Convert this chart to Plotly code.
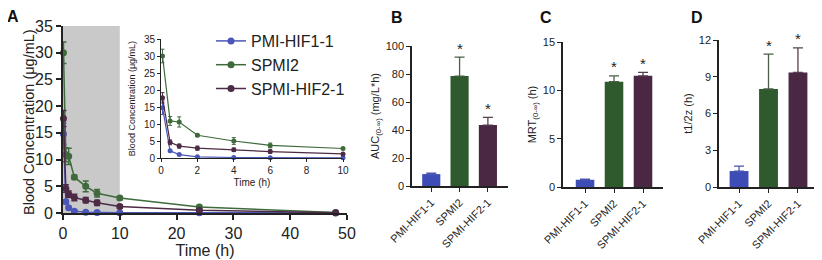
import plotly.graph_objects as go

# ---------------- data ----------------
time_h = [0.083, 0.5, 1, 2, 4, 6, 10, 24, 48]
series_names = ["PMI-HIF1-1", "SPMI2", "SPMI-HIF2-1"]
conc_pmi = [14.8, 2.1, 1.0, 0.35, 0.15, 0.08, 0.05, 0.05, 0.02]
conc_pmi_err = [2.0, 0.3, 0.15, 0.1, 0.05, 0.03, 0.02, 0.02, 0.01]
conc_spmi2 = [30.0, 10.9, 10.6, 6.7, 5.0, 3.7, 2.8, 1.1, 0.1]
conc_spmi2_err = [2.0, 1.3, 1.5, 0.4, 1.0, 0.7, 0.3, 0.3, 0.05]
conc_hif2 = [17.7, 4.6, 3.5, 2.9, 2.4, 1.9, 1.2, 0.5, 0.05]
conc_hif2_err = [1.5, 0.7, 0.6, 0.6, 0.5, 0.5, 0.3, 0.1, 0.02]

bar_categories = ["PMI-HIF1-1", "SPMI2", "SPMI-HIF2-1"]
auc_vals = [8.5, 78.5, 43.5]
auc_err = [0.7, 13.5, 5.5]
mrt_vals = [0.75, 10.9, 11.5]
mrt_err = [0.05, 0.6, 0.35]
thalf_vals = [1.3, 8.0, 9.35]
thalf_err = [0.4, 2.85, 2.0]
significant = [False, True, True]

line_colors = ["#4b57b8", "#3f6b3c", "#4d2a45"]
bar_colors = ["#3e4cb6", "#2e5a2e", "#4a2743"]
err_colors = ["#4a55b0", "#4a5e48", "#55404f"]

VW, VH = 822, 260          # browser window
OFF = 8                    # default page body margin
W, H = VW - OFF, VH - OFF  # figure size so that it fills the window
FONT = "Liberation Sans, Arial, sans-serif"


def px_x(p):
    return (p - OFF) / W


def px_y(p):
    return (VH - p) / H


fig = go.Figure()

conc = [conc_pmi, conc_spmi2, conc_hif2]
conc_err = [conc_pmi_err, conc_spmi2_err, conc_hif2_err]

# main panel A
for i, name in enumerate(series_names):
    fig.add_trace(go.Scatter(
        x=time_h, y=conc[i], name=name, mode="lines+markers",
        line=dict(color=line_colors[i], width=1.5),
        marker=dict(color=line_colors[i], size=7),
        error_y=dict(type="data", array=conc_err[i], color=line_colors[i], thickness=1.5, width=3),
        cliponaxis=False, xaxis="x", yaxis="y"))

# inset (first 10 h)
for i, name in enumerate(series_names):
    xs = [t for t in time_h if t <= 10]
    n = len(xs)
    fig.add_trace(go.Scatter(
        x=xs, y=conc[i][:n], name=name, mode="lines+markers", showlegend=False,
        line=dict(color=line_colors[i], width=1.2),
        marker=dict(color=line_colors[i], size=5),
        error_y=dict(type="data", array=conc_err[i][:n], color=line_colors[i], thickness=1, width=2),
        cliponaxis=False, xaxis="x2", yaxis="y2"))

# bar panels
bar_sets = [(auc_vals, auc_err, "x3", "y3"), (mrt_vals, mrt_err, "x4", "y4"), (thalf_vals, thalf_err, "x5", "y5")]
for vals, errs, xa, ya in bar_sets:
    for j, cat in enumerate(bar_categories):
        fig.add_trace(go.Bar(
            x=[j], y=[vals[j]], width=0.64, name=cat,
            marker=dict(color=bar_colors[j], line=dict(width=0)),
            error_y=dict(type="data", symmetric=False, array=[errs[j]], arrayminus=[0],
                         color=err_colors[j], thickness=1.3, width=5),
            showlegend=False, xaxis=xa, yaxis=ya))
        if significant[j]:
            fig.add_annotation(x=j, y=vals[j] + errs[j], xref=xa, yref=ya, text="*",
                               showarrow=False, yshift=9, font=dict(size=15, color="#222", family=FONT))

axis_common = dict(showline=True, linecolor="#222", ticks="outside", tickcolor="#222",
                   showgrid=False, zeroline=False, mirror=False, automargin=False)

layout = dict(
    width=W, height=H, margin=dict(l=0, r=0, t=0, b=0, autoexpand=False),
    paper_bgcolor="white", plot_bgcolor="rgba(0,0,0,0)",
    font=dict(family=FONT, color="#222"),
    showlegend=True, barmode="overlay",
    legend=dict(x=px_x(211), y=px_y(24), xanchor="left", yanchor="top",
                font=dict(size=16, family=FONT, color="#222"), bgcolor="rgba(0,0,0,0)",
                tracegroupgap=0, itemwidth=30),
    xaxis=dict(**axis_common, domain=[px_x(63), px_x(347)], range=[0, 50], tickvals=[0, 10, 20, 30, 40, 50],
               linewidth=1.8, ticklen=5, tickwidth=1.8, tickfont=dict(size=16),
               title=dict(text="Time (h)", font=dict(size=16), standoff=4), anchor="y"),
    yaxis=dict(**axis_common, domain=[px_y(213), px_y(26)], range=[0, 35], tickvals=list(range(0, 36, 5)),
               linewidth=1.8, ticklen=5, tickwidth=1.8, tickfont=dict(size=16), anchor="x"),
    xaxis2=dict(**axis_common, domain=[px_x(161), px_x(343)], range=[0, 10], tickvals=[0, 2, 4, 6, 8, 10],
                linewidth=1, ticklen=3, tickwidth=1, tickfont=dict(size=10),
                title=dict(text="Time (h)", font=dict(size=10), standoff=3), anchor="y2"),
    yaxis2=dict(**axis_common, domain=[px_y(158), px_y(39)], range=[0, 35], tickvals=list(range(0, 36, 5)),
                linewidth=1, ticklen=3, tickwidth=1, tickfont=dict(size=10),
                title=dict(text="Blood Concentration (μg/mL)", font=dict(size=9), standoff=6), anchor="x2"),
    xaxis3=dict(**axis_common, domain=[px_x(412), px_x(508)], range=[-0.68, 2.71], tickvals=[0, 1, 2],
                ticktext=bar_categories, tickangle=-45, linewidth=1.5, ticklen=4, tickwidth=1.3,
                tickfont=dict(size=11), anchor="y3"),
    yaxis3=dict(**axis_common, domain=[px_y(186), px_y(46)], range=[0, 100], tickvals=[0, 20, 40, 60, 80, 100],
                linewidth=1.5, ticklen=4, tickwidth=1.3, tickfont=dict(size=11),
                title=dict(text="AUC<sub>(0-∞)</sub> (mg/L*h)", font=dict(size=11), standoff=4), anchor="x3"),
    xaxis4=dict(**axis_common, domain=[px_x(563), px_x(663)], range=[-0.76, 2.69], tickvals=[0, 1, 2],
                ticktext=bar_categories, tickangle=-45, linewidth=1.5, ticklen=4, tickwidth=1.3,
                tickfont=dict(size=11), anchor="y4"),
    yaxis4=dict(**axis_common, domain=[px_y(187), px_y(42)], range=[0, 15], tickvals=[0, 5, 10, 15],
                linewidth=1.5, ticklen=4, tickwidth=1.3, tickfont=dict(size=11),
                title=dict(text="MRT<sub>(0-∞)</sub> (h)", font=dict(size=11), standoff=4), anchor="x4"),
    xaxis5=dict(**axis_common, domain=[px_x(719), px_x(818)], range=[-0.68, 2.68], tickvals=[0, 1, 2],
                ticktext=bar_categories, tickangle=-45, linewidth=1.5, ticklen=4, tickwidth=1.3,
                tickfont=dict(size=11), anchor="y5"),
    yaxis5=dict(**axis_common, domain=[px_y(187), px_y(40)], range=[0, 12], tickvals=[0, 3, 6, 9, 12],
                linewidth=1.5, ticklen=4, tickwidth=1.3, tickfont=dict(size=11),
                title=dict(text="t1/2z (h)", font=dict(size=11), standoff=4), anchor="x5"),
)
fig.update_layout(**layout)

# shaded window 0-10 h in main panel
fig.add_shape(type="rect", xref="x", yref="y", x0=0, x1=10, y0=0, y1=35,
              fillcolor="#c9c9c9", line=dict(width=0), layer="below")

# main y-axis title
fig.add_annotation(x=px_x(29), y=px_y(122), xref="paper", yref="paper",
                   text="Blood Concentration (μg/mL)", textangle=-90, showarrow=False,
                   xanchor="center", yanchor="middle", font=dict(size=14.5, family=FONT, color="#222"))

# panel letters
for letter, lx, ly in [("A", 13, 17), ("B", 397, 18), ("C", 546, 18), ("D", 697, 18)]:
    fig.add_annotation(x=px_x(lx), y=px_y(ly), xref="paper", yref="paper", text="<b>%s</b>" % letter,
                       showarrow=False, xanchor="center", yanchor="middle",
                       font=dict(size=16, family=FONT, color="#111"))

fig.write_html("out.html")
